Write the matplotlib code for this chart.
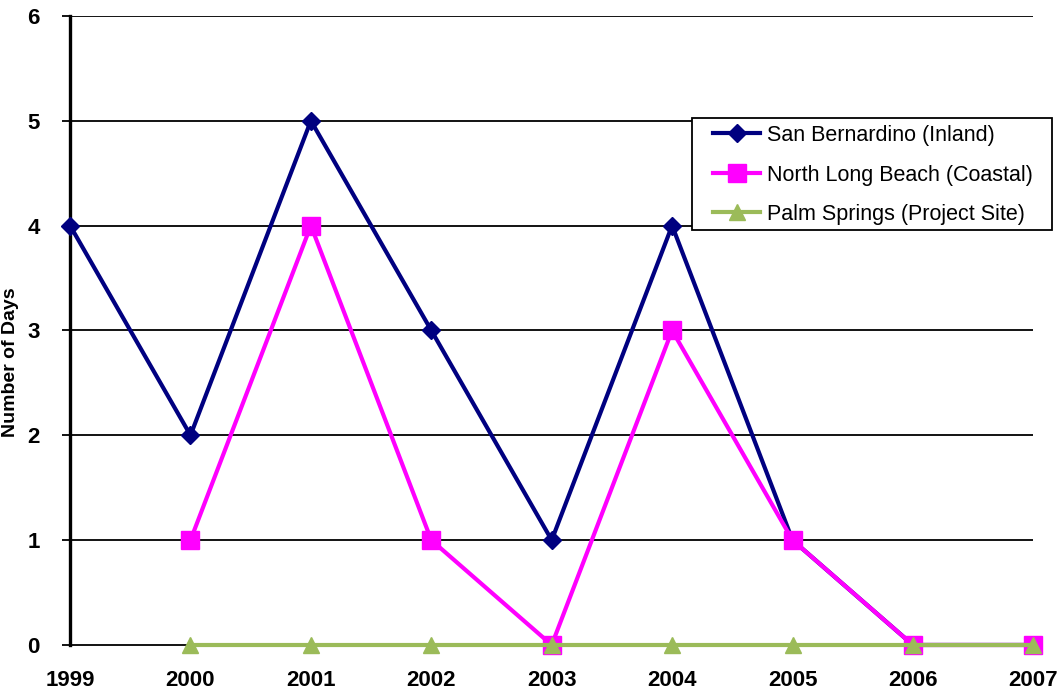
import matplotlib
matplotlib.use("Agg")
import matplotlib.pyplot as plt
from matplotlib.patches import Rectangle

plt.rcParams['font.family'] = ['Liberation Sans', 'DejaVu Sans']

years = [1999, 2000, 2001, 2002, 2003, 2004, 2005, 2006, 2007]
san_bernardino = [4, 2, 5, 3, 1, 4, 1, 0, 0]
long_beach_years = [2000, 2001, 2002, 2003, 2004, 2005, 2006, 2007]
north_long_beach = [1, 4, 1, 0, 3, 1, 0, 0]
palm_years = [2000, 2001, 2002, 2003, 2004, 2005, 2006, 2007]
palm_springs = [0, 0, 0, 0, 0, 0, 0, 0]
y_ticks = [0, 1, 2, 3, 4, 5, 6]

W, H = 1062, 691
fig = plt.figure(figsize=(W / 100, H / 100), dpi=100)
ax = fig.add_axes([0.066, 0.0666, 0.907, 0.9104])

for y in y_ticks[1:]:
    ax.axhline(y, color='black', lw=1.3, zorder=1)

ax.plot(years, san_bernardino, color='#000080', lw=3, marker='D', ms=9.5,
        label='San Bernardino (Inland)', zorder=3, clip_on=False)
ax.plot(long_beach_years, north_long_beach, color='#FF00FF', lw=3, marker='s', ms=12.5,
        label='North Long Beach (Coastal)', zorder=4, clip_on=False)
ax.plot(palm_years, palm_springs, color='#9BBB59', lw=3, marker='^', ms=12,
        label='Palm Springs (Project Site)', zorder=5, clip_on=False)

ax.set_xlim(1999, 2007)
ax.set_ylim(0, 6)
ax.set_xticks(years)
ax.set_yticks(y_ticks)
ax.tick_params(axis='x', length=0, pad=18, labelsize=16)
ax.tick_params(axis='y', length=6, width=1.3, pad=16, labelsize=16)
for lab in ax.get_xticklabels() + ax.get_yticklabels():
    lab.set_fontweight('bold')

for s in ['top', 'right']:
    ax.spines[s].set_visible(False)
ax.spines['left'].set_linewidth(2.4)
ax.spines['bottom'].set_linewidth(1.3)

ax.set_ylabel('Number of Days', fontsize=14, fontweight='bold')
ax.yaxis.set_label_coords(-0.0534, 0.45)

# legend box drawn separately so the horizontal padding can be wider
fig.patches.append(Rectangle((692 / W, 1 - 230 / H), 360 / W, 112 / H,
                             transform=fig.transFigure, facecolor='white',
                             edgecolor='black', lw=1.3, zorder=9))
leg = fig.legend(*ax.get_legend_handles_labels(), loc='upper left',
                 bbox_to_anchor=(713 / W, 1 - 125 / H), fontsize=15.5,
                 frameon=False, handlelength=2.2, borderpad=0,
                 labelspacing=0.86, handletextpad=0.3, borderaxespad=0)
leg.set_zorder(10)

fig.savefig('out.png', dpi=100)
